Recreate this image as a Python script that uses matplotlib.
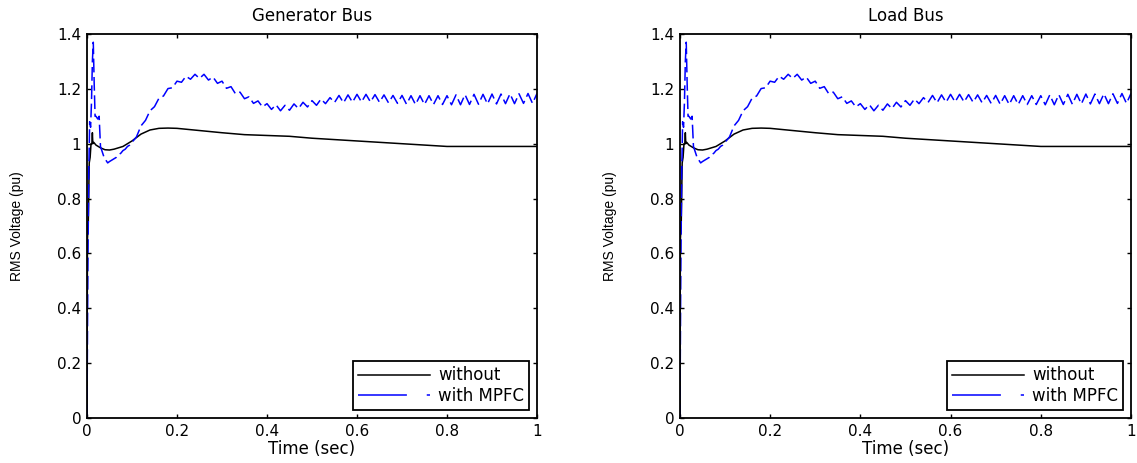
import numpy as np
import matplotlib.pyplot as plt
from matplotlib.lines import Line2D

# bus voltage, case without the controller
t_without = [0, 0.001, 0.003, 0.005, 0.007, 0.009, 0.011, 0.012, 0.013, 0.015,
             0.02, 0.03, 0.04, 0.05, 0.06, 0.08, 0.10, 0.12, 0.14, 0.16, 0.18,
             0.20, 0.25, 0.30, 0.35, 0.40, 0.45, 0.50, 0.55, 0.60, 0.65, 0.70,
             0.75, 0.80, 0.85, 0.90, 0.95, 1.00]
v_without = [0, 0.65, 0.72, 0.93, 0.95, 1.0, 1.0, 1.04, 1.0, 1.005,
             0.995, 0.985, 0.978, 0.977, 0.98, 0.99, 1.01, 1.035, 1.05, 1.056, 1.057,
             1.056, 1.048, 1.04, 1.033, 1.03, 1.027, 1.02, 1.015, 1.01, 1.005, 1.0,
             0.995, 0.99, 0.99, 0.99, 0.99, 0.99]

# bus voltage with MPFC: first transient
t_mpfc_start = [0, 0.002, 0.004, 0.006, 0.008, 0.010, 0.012, 0.014, 0.016, 0.018,
                0.020, 0.024, 0.027, 0.030, 0.034, 0.038, 0.042, 0.046, 0.050,
                0.055, 0.060, 0.065, 0.070, 0.075, 0.080, 0.085, 0.090, 0.095]
v_mpfc_start = [0, 0.55, 0.90, 1.08, 1.06, 1.15, 1.30, 1.37, 1.22, 1.10,
                1.10, 1.09, 1.10, 0.99, 0.97, 0.95, 0.94, 0.93, 0.935,
                0.94, 0.945, 0.95, 0.96, 0.965, 0.975, 0.98, 0.99, 0.995]

# rest of the run, sampled every 10 ms (ripple included)
t_mpfc_rest = np.round(np.arange(0.10, 1.0001, 0.01), 2)
v_mpfc_rest = [1.005, 1.025, 1.065, 1.085, 1.120, 1.135, 1.166, 1.174, 1.201, 1.204,
               1.228, 1.224, 1.246, 1.235, 1.253, 1.238, 1.253, 1.232, 1.243, 1.220,
               1.228, 1.202, 1.208, 1.182, 1.188, 1.164, 1.171, 1.147, 1.156, 1.134,
               1.146, 1.125, 1.142, 1.120, 1.140, 1.122, 1.145, 1.128, 1.151, 1.134,
               1.157, 1.140, 1.163, 1.146, 1.168, 1.150, 1.176, 1.149, 1.178, 1.151,
               1.180, 1.152, 1.180, 1.152, 1.179, 1.151, 1.178, 1.149, 1.176, 1.147,
               1.176, 1.144, 1.175, 1.143, 1.175, 1.143, 1.175, 1.143, 1.175, 1.143,
               1.175, 1.142, 1.178, 1.142, 1.179, 1.143, 1.180, 1.144, 1.180, 1.145,
               1.181, 1.145, 1.181, 1.146, 1.182, 1.146, 1.182, 1.147, 1.183, 1.147,
               1.183]

titles = ["Generator Bus", "Load Bus"]
x_ticks = [0, 0.2, 0.4, 0.6, 0.8, 1]
x_labels = ["0", "0.2", "0.4", "0.6", "0.8", "1"]
y_ticks = [0, 0.2, 0.4, 0.6, 0.8, 1, 1.2, 1.4]
y_labels = ["0", "0.2", "0.4", "0.6", "0.8", "1", "1.2", "1.4"]

t_mpfc = list(t_mpfc_start) + list(t_mpfc_rest)
v_mpfc = list(v_mpfc_start) + list(v_mpfc_rest)

plt.rcParams["font.family"] = "DejaVu Sans"

fig = plt.figure(figsize=(11.37, 4.63), dpi=100)
boxes = [[0.0765, 0.0972, 0.3958, 0.8294], [0.598, 0.0972, 0.3967, 0.8294]]

for box, title in zip(boxes, titles):
    ax = fig.add_axes(box)
    ax.plot(t_without, v_without, color="black", lw=1.1)
    ax.plot(t_mpfc, v_mpfc, color="#0000ff", lw=1.1, linestyle=(0, (9, 3)))

    ax.set_xlim(0, 1)
    ax.set_ylim(0, 1.4)
    ax.set_xticks(x_ticks)
    ax.set_xticklabels(x_labels)
    ax.set_yticks(y_ticks)
    ax.set_yticklabels(y_labels)
    ax.tick_params(direction="in", length=3, width=1, top=True, right=True,
                   labelsize=11, pad=4)
    for s in ax.spines.values():
        s.set_linewidth(1.3)

    ax.set_title(title, fontsize=12, pad=9)
    ax.set_xlabel("Time (sec)", fontsize=12, labelpad=1)
    ax.set_ylabel("RMS Voltage (pu)", fontsize=10, family="Liberation Sans", labelpad=24)

    # legend keys drawn like the plotted dash pattern
    handles = [
        Line2D([], [], color="black", lw=1.1),
        Line2D([], [], color="#0000ff", lw=1.1, dashes=(32, 13, 3, 40)),
    ]
    leg = ax.legend(handles, ["without", "with MPFC"], loc="lower right",
                    bbox_to_anchor=(0.982, 0.021), fontsize=12, handlelength=4.3,
                    handletextpad=0.5, borderpad=0.3, labelspacing=0.15,
                    fancybox=False, framealpha=1, borderaxespad=0)
    leg.get_frame().set_edgecolor("black")
    leg.get_frame().set_linewidth(1.3)

fig.savefig("out.png", dpi=100)
